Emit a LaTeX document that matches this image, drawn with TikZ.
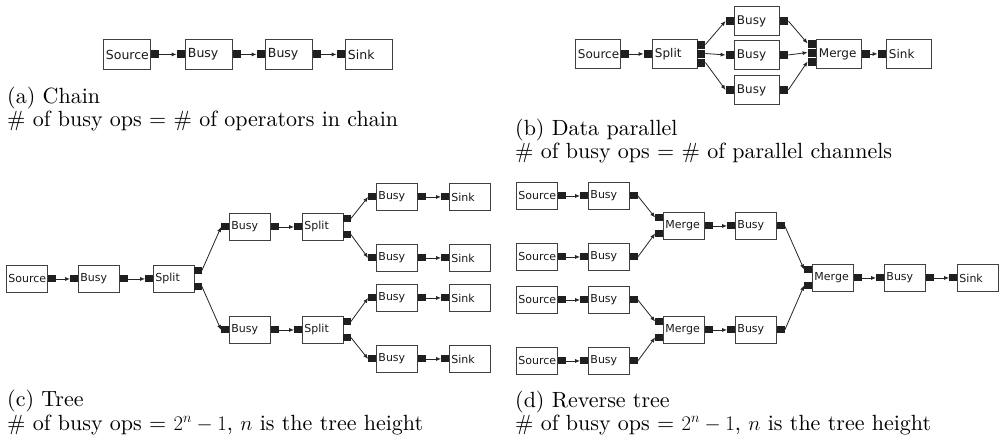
\documentclass[tikz,border=0pt]{standalone}
\usepackage{fontspec}
\newfontfamily\opfont{DejaVu Sans}
\newfontfamily\capfont{lmroman10-regular.otf}
\usetikzlibrary{arrows.meta}

\tikzset{
  x=1pt, y=-1pt,
  op/.style={draw=black!75, line width=0.9pt, anchor=north west, inner ysep=0pt,
             align=left, text=black!90},
  opA/.style={op, inner xsep=2.5pt, text width=42pt, minimum height=30pt,
              font=\opfont\fontsize{12.5}{14}\selectfont},
  opB/.style={op, inner xsep=2.5pt, text width=40pt, minimum height=29pt,
              font=\opfont\fontsize{12}{13}\selectfont},
  opC/.style={op, inner xsep=2pt, text width=37pt, minimum height=27pt,
              font=\opfont\fontsize{11}{12}\selectfont},
  port/.style={fill=black!88, inner sep=0pt, minimum width=8pt, minimum height=8pt},
  portC/.style={port, minimum width=7.5pt, minimum height=7pt},
  pin/.style={anchor=east},
  pout/.style={anchor=west},
  flow/.style={-{Latex[length=5pt,width=4pt]}, line width=0.8pt, black!85},
  captext/.style={anchor=base west, inner sep=0pt, font=\capfont\fontsize{22}{24}\selectfont}
}

\begin{document}
\begin{tikzpicture}
\useasboundingbox (0,0) rectangle (1001,440);
\fill[white] (0,0) rectangle (1001,440);

% ---------- (a) chain ----------
\node[opA] (aS) at (103,39) {Source};
\node[opA] (aB1) at (185,39) {Busy};
\node[opA] (aB2) at (265,39) {Busy};
\node[opA] (aK) at (345,39) {Sink};
\node[port,pout] (aSo) at (aS.east) {};
\node[port,pin] (aB1i) at (aB1.west) {};
\node[port,pout] (aB1o) at (aB1.east) {};
\node[port,pin] (aB2i) at (aB2.west) {};
\node[port,pout] (aB2o) at (aB2.east) {};
\node[port,pin] (aKi) at (aK.west) {};
\draw[flow] (aSo.east) -- (aB1i.west);
\draw[flow] (aB1o.east) -- (aB2i.west);
\draw[flow] (aB2o.east) -- (aKi.west);

\node[captext] (capA1) at (7,103) {(a) Chain};
\node[captext] (capA2) at (7,126) {\# of busy ops = \# of operators in chain};

% ---------- (b) data parallel ----------
\node[opB] (bS) at (575,39) {Source};
\node[opB] (bP) at (652,39) {Split};
\node[opB] (bB1) at (734,6) {Busy};
\node[opB] (bB2) at (734,40) {Busy};
\node[opB] (bB3) at (734,75) {Busy};
\node[opB] (bM) at (816,39) {Merge};
\node[opB] (bK) at (886,39) {Sink};

\node[port,pout] (bSo) at (bS.east) {};
\node[port,pin] (bPi) at (bP.west) {};
\node[port,pout] (bPo1) at (697,44.5) {};
\node[port,pout] (bPo2) at (697,53.5) {};
\node[port,pout] (bPo3) at (697,62.5) {};
\node[port,pin] (bB1i) at (bB1.west) {};
\node[port,pout] (bB1o) at (bB1.east) {};
\node[port,pin] (bB2i) at (bB2.west) {};
\node[port,pout] (bB2o) at (bB2.east) {};
\node[port,pin] (bB3i) at (bB3.west) {};
\node[port,pout] (bB3o) at (bB3.east) {};
\node[port,pin] (bMi1) at (816,43.5) {};
\node[port,pin] (bMi2) at (816,52.5) {};
\node[port,pin] (bMi3) at (816,61.5) {};
\node[port,pout] (bMo) at (bM.east) {};
\node[port,pin] (bKi) at (bK.west) {};

\draw[flow] (bSo.east) -- (bPi.west);
\draw[flow] (bPo1.east) -- (bB1i.west);
\draw[flow] (bPo2.east) -- (bB2i.west);
\draw[flow] (bPo3.east) -- (bB3i.west);
\draw[flow] (bB1o.east) -- (bMi1.west);
\draw[flow] (bB2o.east) -- (bMi2.west);
\draw[flow] (bB3o.east) -- (bMi3.west);
\draw[flow] (bMo.east) -- (bKi.west);

\node[captext] (capB1) at (515,135) {(b) Data parallel};
\node[captext] (capB2) at (515,158) {\# of busy ops = \# of parallel channels};

% ---------- (c) tree ----------
\node[opC] (cS) at (6,265) {Source};
\node[opC] (cB0) at (78,265) {Busy};
\node[opC] (cP0) at (153,265) {Split};
\node[opC] (cBu) at (229,213) {Busy};
\node[opC] (cPu) at (302,213) {Split};
\node[opC] (cBl) at (229,316) {Busy};
\node[opC] (cPl) at (302,316) {Split};
\node[opC] (cB1) at (376,183) {Busy};
\node[opC] (cB2) at (376,244) {Busy};
\node[opC] (cB3) at (376,284) {Busy};
\node[opC] (cB4) at (376,345) {Busy};
\node[opC] (cK1) at (449,183) {Sink};
\node[opC] (cK2) at (449,244) {Sink};
\node[opC] (cK3) at (449,284) {Sink};
\node[opC] (cK4) at (449,345) {Sink};

\node[portC,pout] (cSo) at (cS.east) {};
\node[portC,pin] (cB0i) at (cB0.west) {};
\node[portC,pout] (cB0o) at (cB0.east) {};
\node[portC,pin] (cP0i) at (cP0.west) {};
\node[portC,pout] (cP0o1) at (194,270.5) {};
\node[portC,pout] (cP0o2) at (194,286.5) {};
\node[portC,pin] (cBui) at (cBu.west) {};
\node[portC,pout] (cBuo) at (cBu.east) {};
\node[portC,pin] (cPui) at (cPu.west) {};
\node[portC,pout] (cPuo1) at (343,218.5) {};
\node[portC,pout] (cPuo2) at (343,234.5) {};
\node[portC,pin] (cBli) at (cBl.west) {};
\node[portC,pout] (cBlo) at (cBl.east) {};
\node[portC,pin] (cPli) at (cPl.west) {};
\node[portC,pout] (cPlo1) at (343,321.5) {};
\node[portC,pout] (cPlo2) at (343,337.5) {};
\foreach \i in {1,2,3,4}{
  \node[portC,pin] (cB\i i) at (cB\i.west) {};
  \node[portC,pout] (cB\i o) at (cB\i.east) {};
  \node[portC,pin] (cK\i i) at (cK\i.west) {};
  \draw[flow] (cB\i o.east) -- (cK\i i.west);
}
\draw[flow] (cSo.east) -- (cB0i.west);
\draw[flow] (cB0o.east) -- (cP0i.west);
\draw[flow] (cP0o1.east) -- (cBui.west);
\draw[flow] (cP0o2.east) -- (cBli.west);
\draw[flow] (cBuo.east) -- (cPui.west);
\draw[flow] (cBlo.east) -- (cPli.west);
\draw[flow] (cPuo1.east) -- (cB1i.west);
\draw[flow] (cPuo2.east) -- (cB2i.west);
\draw[flow] (cPlo1.east) -- (cB3i.west);
\draw[flow] (cPlo2.east) -- (cB4i.west);

\node[captext] (capC1) at (7,406) {(c) Tree};
\node[captext] (capC2) at (7,430) {\# of busy ops = $2^n-1$, $n$ is the tree height};

% ---------- (d) reverse tree ----------
\node[opC] (dS1) at (516,182) {Source};
\node[opC] (dS2) at (516,243) {Source};
\node[opC] (dS3) at (516,286) {Source};
\node[opC] (dS4) at (516,347) {Source};
\node[opC] (dB1) at (588,182) {Busy};
\node[opC] (dB2) at (588,243) {Busy};
\node[opC] (dB3) at (588,286) {Busy};
\node[opC] (dB4) at (588,347) {Busy};
\node[opC] (dMu) at (663,212) {Merge};
\node[opC] (dMl) at (663,316) {Merge};
\node[opC] (dBu) at (735,212) {Busy};
\node[opC] (dBl) at (735,316) {Busy};
\node[opC] (dM) at (812,264) {Merge};
\node[opC] (dB) at (884,264) {Busy};
\node[opC] (dK) at (957,264) {Sink};

\foreach \i in {1,2,3,4}{
  \node[portC,pout] (dS\i o) at (dS\i.east) {};
  \node[portC,pin] (dB\i i) at (dB\i.west) {};
  \node[portC,pout] (dB\i o) at (dB\i.east) {};
  \draw[flow] (dS\i o.east) -- (dB\i i.west);
}
\node[portC,pin] (dMui1) at (663,217.5) {};
\node[portC,pin] (dMui2) at (663,233.5) {};
\node[portC,pout] (dMuo) at (dMu.east) {};
\node[portC,pin] (dMli1) at (663,321.5) {};
\node[portC,pin] (dMli2) at (663,337.5) {};
\node[portC,pout] (dMlo) at (dMl.east) {};
\node[portC,pin] (dBui) at (dBu.west) {};
\node[portC,pout] (dBuo) at (dBu.east) {};
\node[portC,pin] (dBli) at (dBl.west) {};
\node[portC,pout] (dBlo) at (dBl.east) {};
\node[portC,pin] (dMi1) at (812,269.5) {};
\node[portC,pin] (dMi2) at (812,285.5) {};
\node[portC,pout] (dMo) at (dM.east) {};
\node[portC,pin] (dBi) at (dB.west) {};
\node[portC,pout] (dBo) at (dB.east) {};
\node[portC,pin] (dKi) at (dK.west) {};

\draw[flow] (dB1o.east) -- (dMui1.west);
\draw[flow] (dB2o.east) -- (dMui2.west);
\draw[flow] (dB3o.east) -- (dMli1.west);
\draw[flow] (dB4o.east) -- (dMli2.west);
\draw[flow] (dMuo.east) -- (dBui.west);
\draw[flow] (dMlo.east) -- (dBli.west);
\draw[flow] (dBuo.east) -- (dMi1.west);
\draw[flow] (dBlo.east) -- (dMi2.west);
\draw[flow] (dMo.east) -- (dBi.west);
\draw[flow] (dBo.east) -- (dKi.west);

\node[captext] (capD1) at (515,407) {(d) Reverse tree};
\node[captext] (capD2) at (515,430) {\# of busy ops = $2^n-1$, $n$ is the tree height};
\end{tikzpicture}
\end{document}
